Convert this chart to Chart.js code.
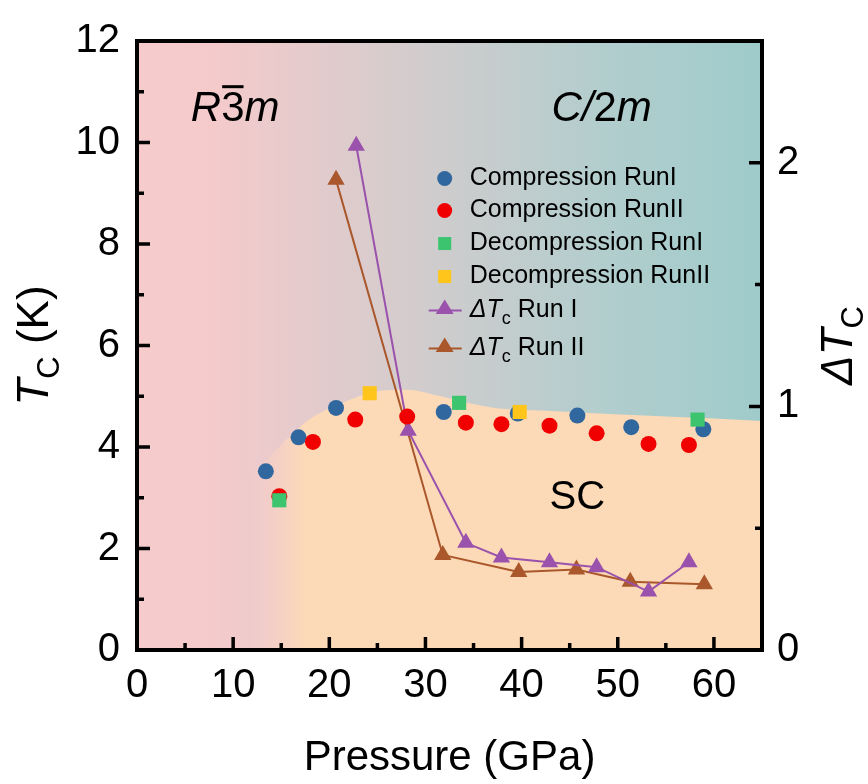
<!DOCTYPE html>
<html>
<head>
<meta charset="utf-8">
<script src="https://cdn.jsdelivr.net/npm/chart.js@4.4.0/dist/chart.umd.min.js"></script>
<style>
    html, body { margin: 0; padding: 0; background: #fff; }
</style>
</head>
<body>
<canvas id="phase-chart" width="868" height="784"></canvas>
<script>
// values
const compRun1P = [13.4, 16.8, 20.7, 31.9, 39.6, 45.8, 51.4, 58.9];
const compRun1Tc = [3.52, 4.19, 4.77, 4.69, 4.66, 4.62, 4.39, 4.35];

const compRun2P = [14.8, 18.3, 22.7, 28.1, 34.2, 37.9, 42.9, 47.8, 53.2, 57.4];
const compRun2Tc = [3.03, 4.10, 4.54, 4.60, 4.48, 4.45, 4.42, 4.27, 4.06, 4.04];

const decompRun1P = [14.8, 33.5, 58.3];
const decompRun1Tc = [2.95, 4.87, 4.54];

const decompRun2P = [24.2, 39.8];
const decompRun2Tc = [5.06, 4.69];

const dTcRun1P = [22.8, 28.2, 34.2, 37.9, 42.9, 47.8, 53.2, 57.4];
const dTcRun1 = [2.07, 0.90, 0.44, 0.38, 0.36, 0.34, 0.24, 0.36];

const dTcRun2P = [20.7, 31.8, 39.7, 45.7, 51.3, 59.0];
const dTcRun2 = [1.93, 0.39, 0.32, 0.33, 0.28, 0.27];

// upper edge of the SC dome
const scEdgeP = [10, 12.8, 15.9, 17.6, 21.1, 24.5, 28.0, 31.4, 34.8, 37.6, 42, 48, 55, 60, 65];
const scEdgeTc = [3.3, 3.64, 4.21, 4.5, 4.85, 5.08, 5.13, 5.01, 4.85, 4.76, 4.72, 4.66, 4.6, 4.56, 4.51];

const pressureTicks = [0, 10, 20, 30, 40, 50, 60];
const pressureMinor = [5, 15, 25, 35, 45, 55];
const tcTicks = [0, 2, 4, 6, 8, 10, 12];
const tcMinor = [1, 3, 5, 7, 9, 11];
const dTcTicks = [0, 1, 2];
const dTcMinor = [0.5, 1.5];

const fontFamily = '"Liberation Sans", Arial, Helvetica, sans-serif';
const peach = "rgb(253,218,183)";
const pink = "rgb(246,203,204)";

const colors = {
    blue: "#31679f",
    red: "#f00000",
    green: "#3cc46f",
    yellow: "#ffc51a",
    purple: "#9a52ad",
    brown: "#a9572b",
};

const toPoints = (xs, ys) => xs.map((x, i) => ({ x: x, y: ys[i] }));

// draw a row of text pieces (some italic / subscript)
function drawRich(ctx, parts, x, y, align) {
    let total = 0;
    parts.forEach(p => {
        ctx.font = p.font;
        p.w = ctx.measureText(p.text).width;
        total += p.w;
    });
    let cx = align === "center" ? x - total / 2 : x;
    parts.forEach(p => {
        ctx.font = p.font;
        ctx.fillText(p.text, cx, y + (p.dy || 0));
        cx += p.w;
    });
}

const backgroundPlugin = {
    id: "phaseBackground",
    beforeDatasetsDraw(chart) {
        const { ctx, chartArea: a } = chart;
        const g = ctx.createLinearGradient(a.left, 0, a.right, 0);
        g.addColorStop(0, pink);
        g.addColorStop(0.12, "rgb(245,202,203)");
        g.addColorStop(0.45, "rgb(210,204,205)");
        g.addColorStop(0.75, "rgb(178,205,205)");
        g.addColorStop(1, "rgb(159,203,203)");
        ctx.save();
        ctx.fillStyle = g;
        ctx.fillRect(a.left, a.top, a.right - a.left, a.bottom - a.top);
        ctx.restore();
    },
    afterDatasetDraw(chart, args) {
        if (args.index !== 0) return;
        const { ctx, scales } = chart;
        const x = scales.x, y = scales.y;
        ctx.save();
        ctx.fillStyle = "#000";
        ctx.textBaseline = "alphabetic";
        const it = "italic 42px " + fontFamily;
        const up = "42px " + fontFamily;
        // R-3m
        let px = x.getPixelForValue(5.6), py = y.getPixelForValue(10.42);
        ctx.font = it;
        ctx.fillText("R", px, py);
        let w = ctx.measureText("R").width;
        ctx.font = up;
        ctx.fillText("3", px + w, py);
        const w3 = ctx.measureText("3").width;
        ctx.fillRect(px + w + 1, py - 36, w3 - 2, 3);
        ctx.font = it;
        ctx.fillText("m", px + w + w3, py);
        // C2/m
        drawRich(ctx, [
            { text: "C/", font: it },
            { text: "2", font: up },
            { text: "m", font: it },
        ], x.getPixelForValue(43.1), py, "left");
        // SC
        ctx.font = "40px " + fontFamily;
        ctx.textAlign = "center";
        ctx.textBaseline = "middle";
        ctx.fillText("SC", x.getPixelForValue(45.8), y.getPixelForValue(3.0));
        ctx.restore();
    },
};

const legendRows = [
    { kind: "circle", color: colors.blue, label: "Compression RunI" },
    { kind: "circle", color: colors.red, label: "Compression RunII" },
    { kind: "square", color: colors.green, label: "Decompression RunI" },
    { kind: "square", color: colors.yellow, label: "Decompression RunII" },
    { kind: "triangle", color: colors.purple, label: "Run I" },
    { kind: "triangle", color: colors.brown, label: "Run II" },
];
const legendOffsets = [0, 32, 65, 98, 130, 168];

const legendPlugin = {
    id: "insideLegend",
    afterDatasetsDraw(chart) {
        const { ctx, scales } = chart;
        const mx = scales.x.getPixelForValue(32.0);
        const top = scales.y.getPixelForValue(9.29);
        ctx.save();
        legendRows.forEach((row, i) => {
            const my = top + legendOffsets[i];
            ctx.fillStyle = row.color;
            ctx.strokeStyle = row.color;
            if (row.kind === "circle") {
                ctx.beginPath();
                ctx.arc(mx, my, 7.5, 0, Math.PI * 2);
                ctx.fill();
            } else if (row.kind === "square") {
                ctx.fillRect(mx - 6.5, my - 6.5, 13, 13);
            } else {
                ctx.lineWidth = 2;
                ctx.beginPath();
                ctx.moveTo(mx - 16, my + 2);
                ctx.lineTo(mx + 17, my + 2);
                ctx.stroke();
                ctx.beginPath();
                ctx.moveTo(mx, my - 9);
                ctx.lineTo(mx + 9, my + 5.5);
                ctx.lineTo(mx - 9, my + 5.5);
                ctx.closePath();
                ctx.fill();
            }
            ctx.fillStyle = "#000";
            ctx.textBaseline = "middle";
            const tx = mx + 25;
            if (row.kind === "triangle") {
                drawRich(ctx, [
                    { text: "\u0394T", font: "italic 25px " + fontFamily },
                    { text: "c", font: "18px " + fontFamily, dy: 8 },
                    { text: " " + row.label, font: "25px " + fontFamily },
                ], tx, my + 2, "left");
            } else {
                ctx.font = "25px " + fontFamily;
                ctx.fillText(row.label, tx, my);
            }
        });
        ctx.restore();
    },
};

const framePlugin = {
    id: "frameTicks",
    afterDraw(chart) {
        const { ctx, chartArea: a, scales } = chart;
        ctx.save();
        ctx.strokeStyle = "#000";
        ctx.lineWidth = 3.5;
        ctx.beginPath();
        const xTick = (v, len) => {
            const p = scales.x.getPixelForValue(v);
            ctx.moveTo(p, a.bottom);
            ctx.lineTo(p, a.bottom - len);
        };
        const yTick = (v, len) => {
            const p = scales.y.getPixelForValue(v);
            ctx.moveTo(a.left, p);
            ctx.lineTo(a.left + len, p);
        };
        const y1Tick = (v, len) => {
            const p = scales.y1.getPixelForValue(v);
            ctx.moveTo(a.right, p);
            ctx.lineTo(a.right - len, p);
        };
        pressureTicks.forEach(v => xTick(v, 13));
        pressureMinor.forEach(v => xTick(v, 7));
        tcTicks.forEach(v => yTick(v, 13));
        tcMinor.forEach(v => yTick(v, 7));
        dTcTicks.forEach(v => y1Tick(v, 13));
        dTcMinor.forEach(v => y1Tick(v, 7));
        ctx.stroke();
        ctx.lineWidth = 4;
        ctx.strokeRect(a.left, a.top, a.right - a.left, a.bottom - a.top);

        // axis titles with italic / subscript parts
        ctx.fillStyle = "#000";
        ctx.textBaseline = "alphabetic";
        const midY = (a.top + a.bottom) / 2;
        ctx.save();
        ctx.translate(48, midY);
        ctx.rotate(-Math.PI / 2);
        drawRich(ctx, [
            { text: "T", font: "italic 44px " + fontFamily },
            { text: "C", font: "31px " + fontFamily, dy: 11 },
            { text: " (K)", font: "44px " + fontFamily },
        ], 0, 0, "center");
        ctx.restore();
        ctx.save();
        ctx.translate(852, midY);
        ctx.rotate(-Math.PI / 2);
        drawRich(ctx, [
            { text: "\u0394T", font: "italic 44px " + fontFamily },
            { text: "C", font: "31px " + fontFamily, dy: 11 },
        ], 0, 0, "center");
        ctx.restore();
        ctx.restore();
    },
};

const tickFont = { family: fontFamily, size: 40 };

const phaseData = {
    datasets: [
        {
            type: "line",
            label: "SC",
            data: toPoints(scEdgeP, scEdgeTc),
            yAxisID: "y",
            fill: "origin",
            borderWidth: 0,
            pointRadius: 0,
            cubicInterpolationMode: "monotone",
            order: 10,
            backgroundColor: (context) => {
                const chart = context.chart;
                if (!chart.chartArea) return peach;
                const xs = chart.scales.x;
                const g = chart.ctx.createLinearGradient(xs.getPixelForValue(11), 0, xs.getPixelForValue(17.5), 0);
                g.addColorStop(0, "rgba(246,203,204,0)");
                g.addColorStop(0.45, "rgba(248,208,196,0.6)");
                g.addColorStop(1, peach);
                return g;
            },
        },
        {
            type: "line",
            label: "dTc Run II",
            data: toPoints(dTcRun2P, dTcRun2),
            yAxisID: "y1",
            borderColor: colors.brown,
            backgroundColor: colors.brown,
            borderWidth: 2,
            pointStyle: "triangle",
            pointRadius: 10,
            pointBorderWidth: 0,
            fill: false,
            tension: 0,
            order: 6,
        },
        {
            type: "line",
            label: "dTc Run I",
            data: toPoints(dTcRun1P, dTcRun1),
            yAxisID: "y1",
            borderColor: colors.purple,
            backgroundColor: colors.purple,
            borderWidth: 2,
            pointStyle: "triangle",
            pointRadius: 10,
            pointBorderWidth: 0,
            fill: false,
            tension: 0,
            order: 5,
        },
        {
            type: "scatter",
            label: "Compression RunI",
            data: toPoints(compRun1P, compRun1Tc),
            yAxisID: "y",
            backgroundColor: colors.blue,
            pointRadius: 8,
            pointBorderWidth: 0,
            order: 4,
        },
        {
            type: "scatter",
            label: "Compression RunII",
            data: toPoints(compRun2P, compRun2Tc),
            yAxisID: "y",
            backgroundColor: colors.red,
            pointRadius: 8,
            pointBorderWidth: 0,
            order: 3,
        },
        {
            type: "scatter",
            label: "Decompression RunI",
            data: toPoints(decompRun1P, decompRun1Tc),
            yAxisID: "y",
            backgroundColor: colors.green,
            pointStyle: "rect",
            pointRadius: 10,
            pointBorderWidth: 0,
            order: 2,
        },
        {
            type: "scatter",
            label: "Decompression RunII",
            data: toPoints(decompRun2P, decompRun2Tc),
            yAxisID: "y",
            backgroundColor: colors.yellow,
            pointStyle: "rect",
            pointRadius: 10,
            pointBorderWidth: 0,
            order: 1,
        },
    ],
};

const phaseConfig = {
    type: "scatter",
    data: phaseData,
    options: {
        responsive: false,
        animation: false,
        layout: { padding: { top: 24, left: 0, right: 0, bottom: 0 } },
        plugins: {
            legend: { display: false },
            tooltip: { enabled: false },
        },
        scales: {
            x: {
                type: "linear",
                position: "bottom",
                min: 0,
                max: 65,
                grid: { display: false, drawTicks: false },
                border: { display: false },
                ticks: { font: tickFont, color: "#000", padding: 12, maxRotation: 0 },
                afterBuildTicks: (s) => { s.ticks = pressureTicks.map(v => ({ value: v })); },
                afterFit: (s) => { s.height = 134; },
                title: {
                    display: true,
                    text: "Pressure (GPa)",
                    color: "#000",
                    font: { family: fontFamily, size: 42 },
                    padding: { top: 18, bottom: 0 },
                },
            },
            y: {
                type: "linear",
                position: "left",
                min: 0,
                max: 12,
                grid: { display: false, drawTicks: false },
                border: { display: false },
                ticks: { font: tickFont, color: "#000", padding: 17 },
                afterBuildTicks: (s) => { s.ticks = tcTicks.map(v => ({ value: v })); },
                afterFit: (s) => { s.width = 137; },
            },
            y1: {
                type: "linear",
                position: "right",
                min: 0,
                max: 2.5,
                grid: { display: false, drawTicks: false },
                border: { display: false },
                ticks: { font: tickFont, color: "#000", padding: 15 },
                afterBuildTicks: (s) => { s.ticks = dTcTicks.map(v => ({ value: v })); },
                afterFit: (s) => { s.width = 106; },
            },
        },
    },
    plugins: [backgroundPlugin, legendPlugin, framePlugin],
};

const phaseChart = new Chart(document.getElementById("phase-chart"), phaseConfig);
</script>
</body>
</html>
